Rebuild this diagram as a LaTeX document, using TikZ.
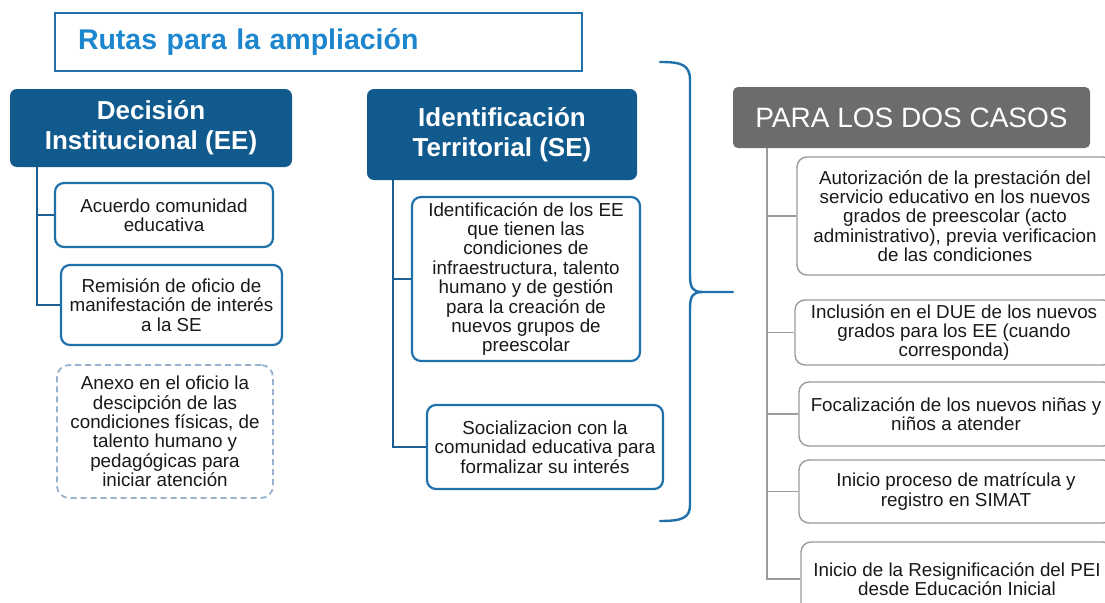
\documentclass[tikz,border=0pt]{standalone}
\usepackage{fontspec}
\setmainfont{Liberation Sans}
\definecolor{boxblue}{RGB}{32,112,172}
\definecolor{headblue}{RGB}{16,90,142}
\definecolor{titleblue}{RGB}{28,134,206}
\definecolor{treeblue}{RGB}{26,94,148}
\definecolor{dashblue}{RGB}{150,178,204}
\definecolor{headgray}{RGB}{108,108,108}
\definecolor{linegray}{RGB}{155,155,155}
\definecolor{txt}{RGB}{25,25,25}
\begin{document}
\begin{tikzpicture}[x=1pt,y=-1pt,
  every node/.style={align=center, inner sep=0pt, text=txt, font=\fontsize{18.8}{19.4}\selectfont},
  bluebox/.style={draw=boxblue, line width=2.2pt, rounded corners=9pt, fill=white},
  dashbox/.style={draw=dashblue, line width=1.8pt, rounded corners=12pt, dash pattern=on 6pt off 4pt, fill=white},
  headbox/.style={fill=headblue, rounded corners=7pt, text=white, font=\bfseries\fontsize{26}{30}\selectfont},
  graybox/.style={draw=linegray, line width=1.4pt, rounded corners=10pt, fill=white},
  grayhead/.style={fill=headgray, rounded corners=5pt, text=white, font=\fontsize{28}{30}\selectfont},
  tree/.style={draw=treeblue, line width=2.4pt},
  graytree/.style={draw=linegray, line width=1.4pt},
  brace/.style={draw=boxblue, line width=2.4pt, line cap=round}]
\useasboundingbox (0,0) rectangle (1105,602);
\fill[white] (0,0) rectangle (1105,602);

% title
\node[draw=boxblue, line width=2pt, minimum width=527, minimum height=58, text width=481, align=left,
      text=titleblue, font=\bfseries\fontsize{28.5}{30}\selectfont] (title) at (318.5,42) {Rutas para la ampliación};

% left column
\node[headbox, minimum width=282, minimum height=78] (dec) at (151,128) {Decisión\\Institucional (EE)};
\node[bluebox, minimum width=218, minimum height=64] (b1) at (164,215) {Acuerdo comunidad\\educativa};
\node[bluebox, minimum width=221, minimum height=80] (b2) at (171.5,305) {Remisión de oficio de\\manifestación de interés\\a la SE};
\node[dashbox, minimum width=216, minimum height=133] (b0) at (165,431.5) {Anexo en el oficio la\\descipción de las\\condiciones físicas, de\\talento humano y\\pedagógicas para\\iniciar atención};
\coordinate (t1) at (37,167);
\draw[tree] (t1) |- (b2.west);
\draw[tree] (t1 |- b1.west) -- (b1.west);

% middle column
\node[headbox, minimum width=270, minimum height=91] (ide) at (502,134.5) {Identificación\\Territorial (SE)};
\node[bluebox, minimum width=228, minimum height=164] (b3) at (526,279) {Identificación de los EE\\que tienen las\\condiciones de\\infraestructura, talento\\humano y de gestión\\para la creación de\\nuevos grupos de\\preescolar};
\node[bluebox, minimum width=236, minimum height=84] (b4) at (545,447) {Socializacion con la\\comunidad educativa para\\formalizar su interés};
\coordinate (t2) at (393,180);
\draw[tree] (t2) |- (b4.west);
\draw[tree] (t2 |- b3.west) -- (b3.west);

% brace
\coordinate (brtop) at (660,62);
\coordinate (brbot) at (660,521);
\coordinate (brtip) at (733,292);
\draw[brace] (brtop) .. controls (680,62) and (690,64) .. (690,80) -- (690,276)
  .. controls (690,288) and (693,292) .. (702,292) -- (brtip);
\draw[brace] (702,292) .. controls (693,292) and (690,296) .. (690,308) -- (690,505)
  .. controls (690,518) and (682,521) .. (brbot);

% right column
\node[grayhead, minimum width=357, minimum height=61] (para) at (911.5,117.5) {PARA LOS DOS CASOS};
\node[graybox, minimum width=316, minimum height=118] (gA) at (955,216) {Autorización de la prestación del\\servicio educativo en los nuevos\\grados de preescolar (acto\\administrativo), previa verificacion\\de las condiciones};
\node[graybox, minimum width=318, minimum height=65] (gB) at (954,332.5) {Inclusión en el DUE de los nuevos\\grados para los EE (cuando\\corresponda)};
\node[graybox, minimum width=314, minimum height=64] (gC) at (956,414) {Focalización de los nuevos niñas y\\niños a atender};
\node[graybox, minimum width=314, minimum height=63] (gD) at (956,491.5) {Inicio proceso de matrícula y\\registro en SIMAT};
\node[graybox, minimum width=312, minimum height=74] (gE) at (957,579) {Inicio de la Resignificación del PEI\\desde Educación Inicial};
\coordinate (t3) at (767,148);
\draw[graytree] (t3) |- (gE.west);
\foreach \n in {gA,gB,gC,gD} \draw[graytree] (t3 |- \n.west) -- (\n.west);
\end{tikzpicture}
\end{document}
